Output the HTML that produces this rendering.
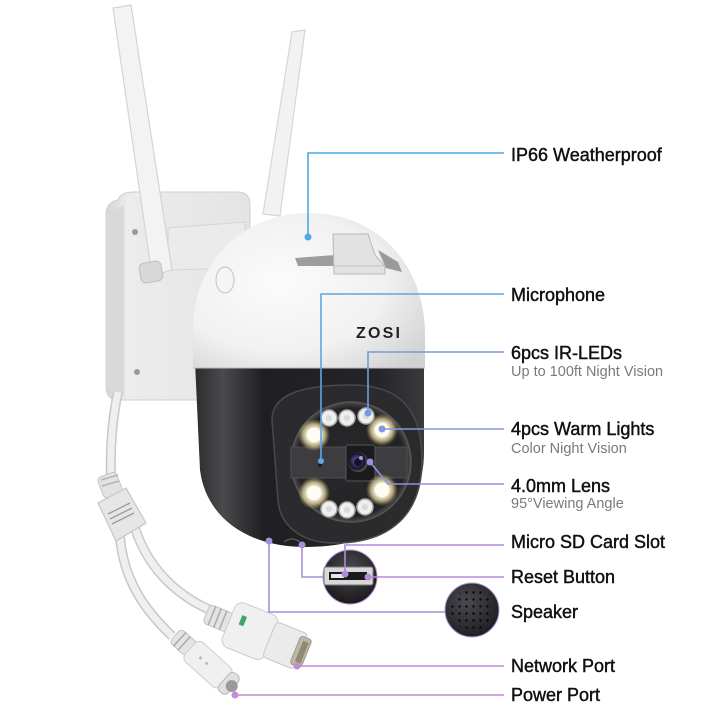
<!DOCTYPE html>
<html><head><meta charset="utf-8"><style>
html,body{margin:0;padding:0;background:#fff;}
svg{display:block;}
.t{font-family:"Liberation Sans",Arial,sans-serif;font-size:18px;fill:#111;stroke:#111;stroke-width:0.45px;}
.s{font-family:"Liberation Sans",Arial,sans-serif;font-size:14.5px;fill:#7a7a7a;}
</style></head><body>
<svg width="720" height="720" viewBox="0 0 720 720" xmlns="http://www.w3.org/2000/svg">
<defs>
<radialGradient id="dome" cx="0.38" cy="0.45" r="0.75">
<stop offset="0" stop-color="#fbfbfb"/><stop offset="0.6" stop-color="#f1f1f1"/><stop offset="1" stop-color="#d2d2d2"/>
</radialGradient>
<linearGradient id="blk" x1="0" y1="0" x2="1" y2="0">
<stop offset="0" stop-color="#2c2c2e"/><stop offset="0.12" stop-color="#4a4a4c"/><stop offset="0.3" stop-color="#1f1f21"/><stop offset="0.8" stop-color="#252527"/><stop offset="1" stop-color="#3a3a3c"/>
</linearGradient>
<radialGradient id="face" cx="0.5" cy="0.5" r="0.5">
<stop offset="0" stop-color="#2a2a2c"/><stop offset="0.9" stop-color="#232325"/><stop offset="1" stop-color="#4b4b4d"/>
</radialGradient>
<radialGradient id="warm" cx="0.5" cy="0.5" r="0.5">
<stop offset="0" stop-color="#ffffff"/><stop offset="0.4" stop-color="#fffbe8"/><stop offset="0.7" stop-color="#e8d9a0" stop-opacity="0.7"/><stop offset="1" stop-color="#c0a860" stop-opacity="0"/>
</radialGradient>
<radialGradient id="lens" cx="0.45" cy="0.45" r="0.55">
<stop offset="0" stop-color="#c8a8ff"/><stop offset="0.35" stop-color="#4a3a7a"/><stop offset="0.7" stop-color="#151520"/><stop offset="1" stop-color="#555"/>
</radialGradient>
<radialGradient id="spk" cx="0.4" cy="0.35" r="0.7">
<stop offset="0" stop-color="#4a4a50"/><stop offset="1" stop-color="#1c1c20"/>
</radialGradient>
<radialGradient id="sdc" cx="0.5" cy="0.35" r="0.7">
<stop offset="0" stop-color="#4a4a4c"/><stop offset="1" stop-color="#161618"/>
</radialGradient>
<pattern id="holes" width="7" height="7" patternUnits="userSpaceOnUse" x="1" y="1">
<circle cx="3.5" cy="3.5" r="1.2" fill="#070709"/>
</pattern>
<linearGradient id="mount" x1="0" y1="0" x2="1" y2="0">
<stop offset="0" stop-color="#d4d4d4"/><stop offset="0.15" stop-color="#ececec"/><stop offset="1" stop-color="#e4e4e4"/>
</linearGradient>
</defs>

<!-- right antenna -->
<polygon points="292,32 305,30 280,216 263,214" fill="#f2f2f2" stroke="#d6d6d6" stroke-width="1.2"/>

<!-- wall mount -->
<path d="M118,200 Q120,192 135,192 L238,192 Q250,192 250,205 L250,300 L200,400 L118,400 Q106,400 106,385 L106,215 Q106,202 118,200 Z" fill="url(#mount)" stroke="#cfcfcf" stroke-width="1"/>
<path d="M106,215 L124,205 L124,395 L106,388 Z" fill="#d9d9d9"/>
<circle cx="135" cy="232" r="3" fill="#9a9a9a"/>
<circle cx="137" cy="372" r="3" fill="#9a9a9a"/>
<!-- arm -->
<path d="M168,228 L245,222 L245,268 L168,270 Z" fill="#ebebeb" stroke="#d4d4d4" stroke-width="1"/>

<!-- left antenna (in front of mount) -->
<polygon points="113,8 131,5 172,270 152,276" fill="#f3f3f3" stroke="#d4d4d4" stroke-width="1.2"/>
<!-- antenna base -->
<rect x="140" y="262" width="22" height="20" rx="5" fill="#d8d8d8" stroke="#bdbdbd" transform="rotate(-10 151 272)"/>

<!-- cable from mount -->
<path d="M118,392 C112,420 110,450 111,480" fill="none" stroke="#c8c8c8" stroke-width="10"/>
<path d="M118,392 C112,420 110,450 111,480" fill="none" stroke="#efefef" stroke-width="7"/>
<!-- strain relief -->
<rect x="100" y="474" width="20" height="22" rx="4" fill="#e2e2e2" stroke="#c4c4c4" transform="rotate(-20 110 485)"/>
<line x1="101" y1="480" x2="118" y2="475" stroke="#b5b5b5" stroke-width="1.5"/>
<line x1="102" y1="486" x2="119" y2="481" stroke="#b5b5b5" stroke-width="1.5"/>
<!-- split cables -->
<path d="M135,528 C150,575 185,600 215,612" fill="none" stroke="#c8c8c8" stroke-width="10"/>
<path d="M135,528 C150,575 185,600 215,612" fill="none" stroke="#efefef" stroke-width="7"/>
<path d="M120,537 C124,585 150,615 172,636" fill="none" stroke="#c8c8c8" stroke-width="10"/>
<path d="M120,537 C124,585 150,615 172,636" fill="none" stroke="#efefef" stroke-width="7"/>
<!-- splitter -->
<polygon points="98,503 126,488 146,523 116,541" fill="#e6e6e6" stroke="#c6c6c6" stroke-width="1.2"/>
<line x1="108" y1="514" x2="130" y2="503" stroke="#9a9a9a" stroke-width="1.3"/>
<line x1="110" y1="519" x2="132" y2="508" stroke="#9a9a9a" stroke-width="1.3"/>
<line x1="112" y1="524" x2="134" y2="513" stroke="#9a9a9a" stroke-width="1.3"/>

<!-- network connector -->
<g transform="translate(262,636) rotate(22)">
<rect x="-60" y="-10" width="26" height="20" rx="4" fill="#e4e4e4" stroke="#c4c4c4"/>
<line x1="-54" y1="-10" x2="-54" y2="10" stroke="#aaa" stroke-width="1.5"/>
<line x1="-48" y1="-10" x2="-48" y2="10" stroke="#aaa" stroke-width="1.5"/>
<line x1="-42" y1="-10" x2="-42" y2="10" stroke="#aaa" stroke-width="1.5"/>
<rect x="-36" y="-24" width="46" height="48" rx="8" fill="#f0f0f0" stroke="#cdcdcd"/>
<rect x="-26" y="-12" width="5" height="10" fill="#3aa864"/>
<rect x="8" y="-19" width="34" height="38" rx="4" fill="#ebebeb" stroke="#c8c8c8"/>
<rect x="36" y="-15" width="12" height="30" rx="3" fill="#bfb7a0" stroke="#9a9a9a"/>
<rect x="40" y="-11" width="6" height="22" fill="#8f8a76"/>
</g>
<!-- power connector -->
<g transform="translate(205,662) rotate(42)">
<rect x="-40" y="-9" width="22" height="18" rx="4" fill="#e4e4e4" stroke="#c4c4c4"/>
<line x1="-34" y1="-9" x2="-34" y2="9" stroke="#aaa" stroke-width="1.5"/>
<line x1="-28" y1="-9" x2="-28" y2="9" stroke="#aaa" stroke-width="1.5"/>
<rect x="-20" y="-13" width="48" height="26" rx="6" fill="#f0f0f0" stroke="#cdcdcd"/>
<circle cx="-6" cy="0" r="1.5" fill="#bbb"/><circle cx="2" cy="0" r="1.5" fill="#bbb"/>
<rect x="26" y="-12" width="12" height="24" rx="5" fill="#e0e0e0" stroke="#b8b8b8"/>
<circle cx="36" cy="0" r="6" fill="#9a9a9a"/>
</g>

<!-- black lower body -->
<path d="M195,362 L424,362 L424,452 C424,512 382,547 305,547 C248,547 206,518 200,470 Z" fill="url(#blk)"/>
<!-- inner housing -->
<path d="M272,420 C272,395 300,385 352,385 C400,385 422,410 422,460 C422,515 390,543 335,543 C300,543 280,525 278,500 Z" fill="#2b2b2d" stroke="#4a4a4c" stroke-width="1.5"/>
<circle cx="351" cy="462" r="60" fill="url(#face)" stroke="#555" stroke-width="1.5"/>
<!-- band -->
<rect x="291" y="447" width="116" height="31" fill="#3d3d3f"/>
<rect x="291" y="447" width="116" height="31" fill="none" stroke="#4d4d50" stroke-width="1"/>
<!-- lens module -->
<rect x="346" y="445" width="29" height="36" rx="2" fill="#1b1b1d" stroke="#555"/>
<circle cx="358" cy="462" r="10" fill="url(#lens)"/>
<circle cx="358" cy="462" r="4" fill="#1a1030"/>
<circle cx="361" cy="458" r="2" fill="#9ec8ff" opacity="0.8"/>

<!-- warm lights -->
<circle cx="314" cy="435" r="16" fill="url(#warm)"/>
<circle cx="382" cy="430" r="16" fill="url(#warm)"/>
<circle cx="314" cy="493" r="16" fill="url(#warm)"/>
<circle cx="382" cy="490" r="16" fill="url(#warm)"/>
<circle cx="314" cy="435" r="7" fill="#fffdf2"/>
<circle cx="382" cy="430" r="7" fill="#fffdf2"/>
<circle cx="314" cy="493" r="7" fill="#fffdf2"/>
<circle cx="382" cy="490" r="7" fill="#fffdf2"/>
<!-- IR LEDs -->
<g fill="#efefef" stroke="#a8a8a8" stroke-width="1.5">
<circle cx="329" cy="418" r="8"/><circle cx="347" cy="418" r="8"/><circle cx="366" cy="416" r="8"/>
<circle cx="329" cy="509" r="8"/><circle cx="347" cy="510" r="8"/><circle cx="365" cy="507" r="8"/>
</g>
<g fill="#d9d9d9">
<circle cx="329" cy="418" r="3"/><circle cx="347" cy="418" r="3"/><circle cx="366" cy="416" r="3"/>
<circle cx="329" cy="509" r="3"/><circle cx="347" cy="510" r="3"/><circle cx="365" cy="507" r="3"/>
</g>
<circle cx="320" cy="465" r="1.6" fill="#111"/>
<!-- bottom features -->
<path d="M284,542 Q292,536 300,542" fill="none" stroke="#555" stroke-width="1.5"/>

<!-- white dome -->
<path d="M193,368 L193,330 C193,262 243,213 309,213 C378,213 425,265 425,335 L425,368 Z" fill="url(#dome)"/>
<path d="M193,368 L425,368" stroke="#bdbdbd" stroke-width="1"/>
<!-- dome button -->
<ellipse cx="225" cy="280" rx="9" ry="13" fill="#f5f5f5" stroke="#c9c9c9" stroke-width="1.2"/>
<!-- sunshade / vents -->
<polygon points="295,258 335,255 335,266 298,266" fill="#9d9d9d"/>
<polygon points="333,234 368,234 375,255 385,266 385,274 334,274" fill="#e2e2e2" stroke="#b8b8b8" stroke-width="1"/>
<polygon points="378,250 398,262 402,272 386,268" fill="#9a9a9a"/>
<line x1="334" y1="266" x2="385" y2="266" stroke="#c4c4c4"/>
<!-- logo -->
<text x="356" y="338" font-family="'Liberation Sans',Arial,sans-serif" font-weight="bold" font-size="16" letter-spacing="2.2" fill="#222">ZOSI</text>

<!-- SD card circle -->
<circle cx="350" cy="577" r="27" fill="url(#sdc)" stroke="#b48ad8" stroke-width="1"/>
<rect x="324" y="567" width="49" height="18" rx="2" fill="#d8d8d8" stroke="#777"/>
<rect x="329" y="572" width="38" height="8" fill="#1a1a1a"/>
<rect x="331" y="574" width="13" height="4" fill="#e8e8e8"/>
<!-- speaker -->
<circle cx="472" cy="610" r="27" fill="url(#spk)" stroke="#b095d8" stroke-width="1"/>
<circle cx="472" cy="610" r="21" fill="url(#holes)"/>

<!-- connector lines -->
<g fill="none" stroke-width="1.6">
<polyline points="308,237 308,153 504,153" stroke="#4fa9e3"/>
<polyline points="321,461 321,294 504,294" stroke="#5ea6e4"/>
<polyline points="368,413 368,352 504,352" stroke="#7898e0"/>
<polyline points="382,429 504,429" stroke="#8696e0"/>
<polyline points="370,462 388,484 504,484" stroke="#9290e0"/>
<polyline points="345,574 345,545 504,545" stroke="#b08ad8"/>
<polyline points="302,545 302,577 323,577" stroke="#a88ed8"/>
<polyline points="368,577 504,577" stroke="#b88ad8"/>
<polyline points="269,541 269,612 445,612" stroke="#a090dc"/>
<polyline points="297,666 504,666" stroke="#c48ad8"/>
<polyline points="235,695 504,695" stroke="#c88ad8"/>
</g>
<g>
<circle cx="308" cy="237" r="3.5" fill="#4fa9e3"/>
<circle cx="321" cy="461" r="3" fill="#5ea6e4"/>
<circle cx="368" cy="413" r="3.5" fill="#7898e0"/>
<circle cx="382" cy="429" r="3.5" fill="#8696e0"/>
<circle cx="370" cy="462" r="3.5" fill="#9290e0"/>
<circle cx="345" cy="574" r="3.5" fill="#b08ad8"/>
<circle cx="302" cy="545" r="3.5" fill="#a88ed8"/>
<circle cx="368" cy="577" r="3.5" fill="#b88ad8"/>
<circle cx="269" cy="541" r="3.5" fill="#a090dc"/>
<circle cx="297" cy="666" r="3.5" fill="#c48ad8"/>
<circle cx="235" cy="695" r="3.5" fill="#c88ad8"/>
</g>

<!-- labels -->
<text class="t" x="511" y="161">IP66 Weatherproof</text>
<text class="t" x="511" y="301">Microphone</text>
<text class="t" x="511" y="359">6pcs IR-LEDs</text>
<text class="s" x="511" y="376">Up to 100ft Night Vision</text>
<text class="t" x="511" y="435">4pcs Warm Lights</text>
<text class="s" x="511" y="453">Color Night Vision</text>
<text class="t" x="511" y="492">4.0mm Lens</text>
<text class="s" x="511" y="508">95°Viewing Angle</text>
<text class="t" x="511" y="548">Micro SD Card Slot</text>
<text class="t" x="511" y="583">Reset Button</text>
<text class="t" x="511" y="618">Speaker</text>
<text class="t" x="511" y="672">Network Port</text>
<text class="t" x="511" y="701">Power Port</text>
</svg>
</body></html>
